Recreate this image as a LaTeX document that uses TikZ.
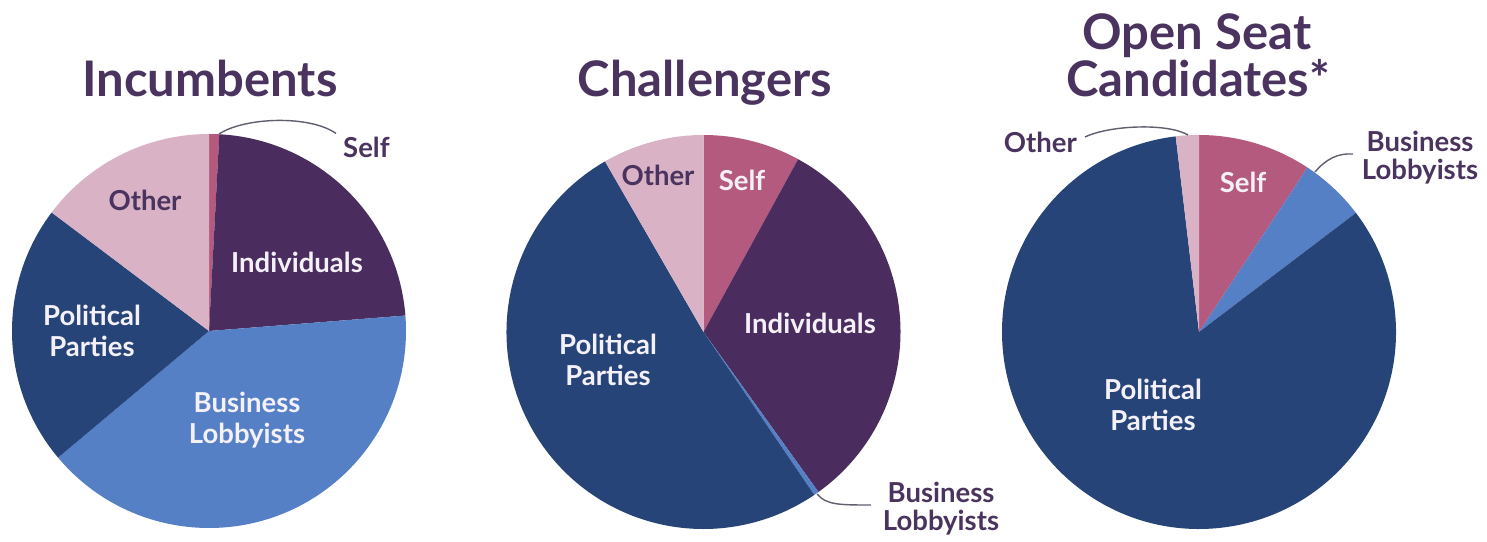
\documentclass[tikz,border=0pt]{standalone}
\usepackage{fontspec}
\setmainfont{Lato}
\definecolor{navy}{RGB}{38,68,120}
\definecolor{lblue}{RGB}{86,128,198}
\definecolor{dpurple}{RGB}{74,44,94}
\definecolor{rasp}{RGB}{180,90,126}
\definecolor{lpink}{RGB}{217,178,197}
\definecolor{titlecol}{RGB}{74,52,95}
\definecolor{lightlbl}{RGB}{244,240,248}
\definecolor{leadcol}{RGB}{95,95,110}
\begin{document}
\begin{tikzpicture}[x=1pt,y=1pt,
  title/.style={font=\bfseries\fontsize{49}{42}\selectfont, text=titlecol, anchor=base, inner sep=0pt},
  inlbl/.style={font=\bfseries\fontsize{27.5}{31}\selectfont, text=lightlbl, align=center, inner sep=0pt},
  outlbl/.style={font=\bfseries\fontsize{27.5}{28}\selectfont, text=titlecol, align=center, inner sep=0pt},
  leader/.style={draw=leadcol, line width=1.4pt}]
\useasboundingbox[fill=white] (0,0) rectangle (1487,541);
\def\R{197}
% ---------- Incumbents ----------
\coordinate (c1) at (209,210);
\fill[rasp]    (c1) -- ++(87:\R)  arc[start angle=87,  end angle=90,  radius=\R] -- cycle;
\fill[dpurple] (c1) -- ++(4.5:\R)  arc[start angle=4.5,  end angle=87,  radius=\R] -- cycle;
\fill[lblue]   (c1) -- ++(-140:\R) arc[start angle=-140, end angle=4.5, radius=\R] -- cycle;
\fill[navy]    (c1) -- ++(143:\R) arc[start angle=143, end angle=220, radius=\R] -- cycle;
\fill[lpink]   (c1) -- ++(90:\R)  arc[start angle=90,  end angle=143, radius=\R] -- cycle;
\node[title] (t1) at (210,444) {Incumbents};
\node[inlbl, text=titlecol] (o1) at (145,341) {Other};
\node[inlbl] (i1) at (297,278.5) {Individuals};
\node[inlbl] (p1) at (92,210) {Political\\Parties};
\node[inlbl] (b1) at (247,121) {Business\\Lobbyists};
\node[outlbl, anchor=west] (s1) at (343,394) {Self};
\coordinate (s1a) at (219,407);
\draw[leader] (s1a) .. controls (245,424) and (310,426) .. ([shift={(-7,3)}]s1.north west);
% ---------- Challengers ----------
\coordinate (c2) at (703.5,209);
\fill[rasp]    (c2) -- ++(61.3:\R) arc[start angle=61.3, end angle=90, radius=\R] -- cycle;
\fill[dpurple] (c2) -- ++(-54.3:\R) arc[start angle=-54.3, end angle=61.3, radius=\R] -- cycle;
\fill[lblue]   (c2) -- ++(-55.8:\R) arc[start angle=-55.8, end angle=-54.3, radius=\R] -- cycle;
\fill[navy]    (c2) -- ++(120:\R) arc[start angle=120, end angle=304.2, radius=\R] -- cycle;
\fill[lpink]   (c2) -- ++(90:\R)  arc[start angle=90, end angle=120, radius=\R] -- cycle;
\node[title] (t2) at (705,444) {Challengers};
\node[inlbl, text=titlecol] (o2) at (658,366) {Other};
\node[inlbl] (s2) at (742,361) {Self};
\node[inlbl] (i2) at (810,218) {Individuals};
\node[inlbl] (p2) at (608,181) {Political\\Parties};
\node[outlbl] (b2) at (941,32.5) {Business\\Lobbyists};
\coordinate (b2a) at (817,47);
\draw[leader] (b2a) .. controls (826,36) and (840,36) .. ([shift={(-12,0)}]b2.west |- 0,36);
% ---------- Open Seat ----------
\coordinate (c3) at (1199,209);
\fill[rasp]    (c3) -- ++(56.6:\R) arc[start angle=56.6, end angle=90, radius=\R] -- cycle;
\fill[lblue]   (c3) -- ++(37.2:\R) arc[start angle=37.2, end angle=56.6, radius=\R] -- cycle;
\fill[navy]    (c3) -- ++(96.8:\R) arc[start angle=96.8, end angle=397.2, radius=\R] -- cycle;
\fill[lpink]   (c3) -- ++(90:\R)  arc[start angle=90, end angle=96.8, radius=\R] -- cycle;
\node[title] (t3a) at (1197,491) {Open Seat};
\node[title] (t3b) at (1198,444) {Candidates*};
\node[inlbl] (s3) at (1243,359) {Self};
\node[inlbl] (p3) at (1153,136) {Political\\Parties};
\node[outlbl, anchor=east] (o3) at (1077,399) {Other};
\coordinate (o3a) at (1188,406);
\draw[leader] ([shift={(8,5)}]o3.east) .. controls (1110,416) and (1168,418) .. (o3a);
\node[outlbl] (b3) at (1420,383) {Business\\Lobbyists};
\coordinate (b3a) at (1315,369);
\draw[leader] (b3a) .. controls (1326,382) and (1338,388) .. ([shift={(-9,4)}]b3.west);
\end{tikzpicture}
\end{document}
